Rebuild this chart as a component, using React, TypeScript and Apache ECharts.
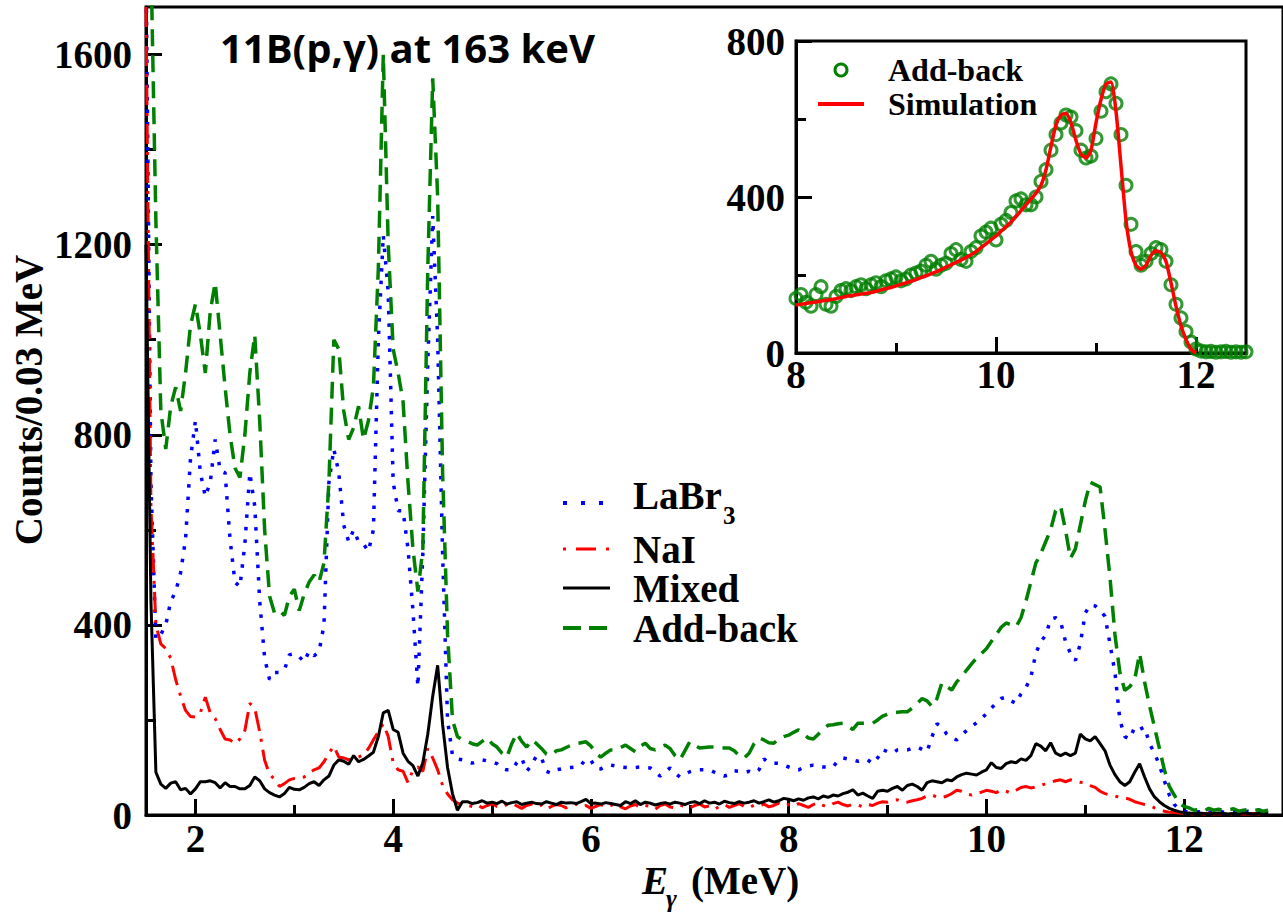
import React, { useEffect, useRef } from "react";
import * as echarts from "echarts";

// Main spectrum: bins from 1.50 MeV, step 0.05 MeV
const E_START = 1.5;
const E_STEP = 0.05;

const laBr3 = [
  1800, 700, 370, 380, 400, 450, 470, 510, 580, 750,
  830, 720, 670, 700, 790, 725, 720, 580, 490, 480,
  570, 720, 650, 450, 330, 285, 300, 300, 305, 337,
  340, 333, 322, 345, 335, 343, 400, 700, 770, 720,
  610, 575, 600, 575, 570, 555, 600, 1000, 1220, 1100,
  700, 640, 640, 560, 430, 270, 550, 950, 1260, 1000,
  550, 200, 125, 118, 116, 112, 109, 112, 116, 114,
  112, 108, 98, 95, 95, 110, 120, 92, 105, 125,
  120, 92, 88, 95, 97, 99, 100, 101, 105, 118,
  115, 98, 97, 103, 105, 103, 101, 100, 99, 100,
  101, 100, 99, 90, 82, 90, 99, 88, 80, 86,
  91, 94, 95, 95, 95, 90, 85, 82, 85, 93,
  92, 89, 92, 88, 95, 118, 110, 109, 109, 105,
  101, 97, 95, 100, 103, 105, 103, 101, 101, 101,
  115, 120, 118, 116, 113, 116, 116, 108, 120, 138,
  133, 130, 137, 138, 137, 140, 143, 138, 133, 165,
  192, 185, 170, 162, 158, 168, 178, 186, 194, 203,
  213, 225, 235, 245, 248, 240, 235, 255, 268, 290,
  340, 365, 378, 412, 415, 408, 365, 340, 325, 360,
  425, 442, 440, 430, 418, 360, 300, 200, 165, 160,
  185, 180, 185, 150, 130, 105, 72, 42, 22, 12,
  8, 6, 5, 7, 4, 6, 5, 8, 6, 5,
  7, 9, 6, 8, 7, 10, 9, 12,
];

const naI = [
  1700, 650, 400, 360, 350, 330, 285, 250, 220, 207,
  206, 215, 248, 215, 203, 180, 160, 158, 150, 160,
  178, 235, 225, 175, 115, 86, 75, 60, 66, 74,
  77, 78, 80, 88, 95, 99, 112, 130, 145, 122,
  120, 116, 120, 122, 126, 140, 158, 175, 192, 165,
  110, 95, 92, 68, 95, 101, 92, 140, 120, 95,
  62, 44, 32, 25, 22, 20, 18, 22, 15, 20,
  24, 18, 16, 22, 25, 19, 14, 20, 23, 17,
  21, 12, 18, 22, 20, 15, 19, 23, 17, 20,
  14, 18, 22, 16, 20, 24, 17, 13, 19, 22,
  16, 20, 18, 12, 20, 23, 17, 15, 21, 18,
  14, 20, 23, 17, 19, 12, 18, 22, 16, 20,
  24, 18, 15, 21, 19, 23, 17, 20, 25, 19,
  22, 18, 24, 20, 16, 22, 26, 20, 18, 24,
  27, 22, 19, 23, 21, 17, 22, 20, 25, 28,
  27, 30, 32, 28, 27, 30, 32, 35, 40, 42,
  38, 36, 40, 45, 52, 50, 44, 42, 46, 48,
  52, 50, 47, 53, 50, 46, 52, 58, 60, 57,
  59, 62, 66, 69, 72, 74, 70, 74, 72, 69,
  68, 62, 58, 50, 45, 42, 40, 37, 36, 33,
  28, 25, 22, 20, 15, 11, 8, 6, 5, 4,
  3, 3, 2, 3, 2, 4, 2, 3, 2, 3,
  2, 3, 2, 2, 3, 2, 3, 2,
];

const mixed = [
  1200, 450, 90, 65, 56, 67, 70, 53, 56, 44,
  55, 70, 70, 72, 68, 57, 68, 60, 60, 55,
  55, 62, 80, 72, 55, 47, 42, 38, 45, 58,
  54, 53, 58, 66, 70, 62, 74, 82, 105, 116,
  113, 107, 125, 112, 117, 124, 132, 165, 215, 220,
  180, 174, 130, 113, 104, 82, 110, 170, 250, 315,
  190, 100, 45, 10, 28, 28, 24, 26, 30, 25,
  27, 24, 29, 23, 26, 28, 22, 25, 27, 24,
  23, 28, 25, 22, 27, 25, 26, 24, 28, 33,
  24, 25, 23, 26, 24, 22, 20, 28, 24, 30,
  22, 27, 25, 21, 24, 26, 23, 27, 25, 22,
  26, 28, 24, 30, 25, 27, 23, 29, 26, 24,
  28, 25, 27, 30, 25, 28, 32, 27, 30, 35,
  33, 30, 34, 31, 36, 38, 34, 40, 37, 42,
  40, 45, 48, 53, 42, 46, 40, 35, 50, 52,
  50, 56, 60, 52, 62, 65, 60, 52, 68, 72,
  70, 68, 74, 72, 80, 85, 88, 86, 84, 90,
  95, 110, 100, 98, 108, 112, 110, 118, 115, 125,
  150, 145, 135, 152, 130, 125, 130, 125, 130, 170,
  160, 156, 165, 150, 135, 105, 85, 70, 62, 70,
  90, 108, 80, 55, 38, 28, 20, 14, 10, 7,
  5, 4, 3, 4, 3, 2, 3, 4, 3, 2,
  3, 3, 4, 3, 2, 3, 4, 3,
];

const addBack = [
  2200, 1800, 1250, 850, 770, 860, 900, 850, 930, 1030,
  1075, 1010, 930, 1060, 1120, 1010, 900, 800, 730, 710,
  800, 930, 1010, 830, 600, 460, 425, 430, 420, 460,
  475, 430, 465, 490, 505, 490, 530, 700, 1000, 980,
  850, 790, 815, 860, 790, 830, 900, 1150, 1600, 1200,
  980, 930, 870, 700, 560, 470, 560, 1150, 1550, 1300,
  720, 380, 200, 165, 158, 155, 150, 147, 155, 162,
  150, 143, 130, 122, 150, 172, 155, 143, 158, 150,
  140, 128, 126, 135, 137, 142, 147, 150, 152, 154,
  145, 130, 122, 130, 137, 137, 142, 147, 140, 133,
  145, 151, 140, 137, 142, 147, 140, 125, 116, 135,
  154, 147, 141, 142, 143, 143, 142, 141, 141, 135,
  125, 120, 130, 150, 162, 158, 152, 151, 160, 165,
  168, 174, 179, 170, 162, 160, 170, 180, 189, 190,
  192, 193, 187, 180, 193, 193, 193, 193, 200, 208,
  212, 215, 216, 217, 217, 225, 235, 245, 240, 228,
  245, 278, 270, 263, 280, 291, 305, 318, 330, 340,
  350, 365, 380, 395, 404, 400, 396, 415, 450, 490,
  530, 550, 575, 600, 640, 650, 600, 540, 560, 610,
  660, 700, 695, 690, 600, 500, 380, 300, 262, 270,
  285, 340, 280, 230, 185, 140, 95, 60, 42, 25,
  18, 15, 10, 12, 8, 14, 10, 12, 9, 11,
  13, 8, 10, 12, 9, 11, 8, 10,
];

// Inset: bins from 8.00 MeV, step 0.05 MeV
const INSET_START = 8.0;
const insetAddBack = [
  140, 150, 130, 120, 150, 170, 125, 120, 145, 160,
  165, 160, 170, 175, 165, 175, 180, 170, 185, 190,
  195, 185, 190, 200, 205, 210, 225, 235, 215, 225,
  230, 255, 265, 240, 235, 260, 270, 300, 310, 320,
  290, 330, 340, 360, 390, 395, 380, 380, 400, 440,
  470, 520, 560, 590, 610, 605, 570, 520, 500, 505,
  550, 620, 670, 690, 640, 560, 430, 330, 260, 225,
  235, 255, 270, 265, 235, 175, 125, 90, 55, 28,
  10, 5, 3, 4, 2, 3, 4, 2, 3, 2,
  3,
];
const insetSimulation = [
  123, 125, 127, 129, 131, 133, 135, 137, 139, 142,
  145, 147, 149, 151, 153, 155, 158, 162, 165, 168,
  172, 176, 180, 184, 188, 193, 198, 203, 208, 214,
  220, 226, 232, 238, 245, 252, 260, 270, 280, 290,
  300, 312, 324, 336, 350, 365, 380, 395, 410, 430,
  470, 530, 585, 610, 615, 590, 545, 510, 500, 520,
  590, 650, 690, 695, 620, 480, 340, 260, 225, 215,
  225, 250, 262, 258, 235, 180, 120, 70, 35, 10,
  0,
];

const mainXLabels = [2, 4, 6, 8, 10, 12];
const mainXMinor = [3, 5, 7, 9, 11];
const mainYLabels = [0, 400, 800, 1200, 1600];
const mainYMinor = [200, 600, 1000, 1400];
const insetXLabels = [8, 10, 12];
const insetXMinor = [9, 11];
const insetYLabels = [0, 400, 800];
const insetYMinor = [200, 600];

const SERIF = '"Liberation Serif", "Times New Roman", serif';

const toPairs = (arr: number[], start: number) =>
  arr.map((v, i) => [Number((start + i * E_STEP).toFixed(2)), v]);

function majorAxis(gridIndex: number, min: number, max: number, values: number[], isX: boolean, margin: number) {
  return {
    type: "value",
    gridIndex,
    min,
    max,
    position: isX ? "bottom" : "left",
    axisLine: { show: true, onZero: false, lineStyle: { color: "#000", width: 3 } },
    axisTick: { show: true, inside: true, length: 16, customValues: values, lineStyle: { color: "#000", width: 3 } },
    axisLabel: {
      show: true,
      customValues: values,
      formatter: (v: number) => String(v),
      margin,
      color: "#000",
      fontFamily: SERIF,
      fontWeight: "bold",
      fontSize: 39,
    },
    splitLine: { show: false },
  };
}

function minorAxis(gridIndex: number, min: number, max: number, values: number[], isX: boolean) {
  return {
    type: "value",
    gridIndex,
    min,
    max,
    position: isX ? "bottom" : "left",
    axisLine: { show: false, onZero: false },
    axisTick: { show: true, inside: true, length: 10, customValues: values, lineStyle: { color: "#000", width: 3 } },
    axisLabel: { show: false },
    splitLine: { show: false },
  };
}

function txt(text: string, x: number, y: number, size: number, opts: any = {}) {
  return {
    type: "text",
    x,
    y,
    rotation: opts.rotation || 0,
    z: 100,
    style: {
      text,
      fill: "#000",
      font: `${opts.italic ? "italic " : ""}bold ${size}px ${opts.family || SERIF}`,
      align: opts.align || "left",
      textAlign: opts.align || "left",
      verticalAlign: "middle",
      textVerticalAlign: "middle",
    },
  };
}

function legLine(x1: number, x2: number, y: number, color: string, width: number, dash: number[] | null) {
  return {
    type: "line",
    z: 100,
    shape: { x1, y1: y, x2, y2: y },
    style: { stroke: color, lineWidth: width, lineDash: dash || null, lineCap: "butt" },
  };
}

export default function App() {
  const ref = useRef<HTMLDivElement>(null);
  useEffect(() => {
    if (!ref.current) return;
    const chart = echarts.init(ref.current, null, { renderer: "svg" });
    const option: any = {
      animation: false,
      backgroundColor: "#fff",
      grid: [
        { left: 146, top: 7, width: 1150, height: 808, show: true, borderColor: "#000", borderWidth: 3, backgroundColor: "transparent" },
        { left: 796, top: 41, width: 450, height: 312, show: true, borderColor: "#000", borderWidth: 3, backgroundColor: "#fff" },
      ],
      xAxis: [
        majorAxis(0, 1.5, 13, mainXLabels, true, 4),
        minorAxis(0, 1.5, 13, mainXMinor, true),
        majorAxis(1, 8, 12.5, insetXLabels, true, 2),
        minorAxis(1, 8, 12.5, insetXMinor, true),
      ],
      yAxis: [
        majorAxis(0, 0, 1700, mainYLabels, false, 14),
        minorAxis(0, 0, 1700, mainYMinor, false),
        majorAxis(1, 0, 800, insetYLabels, false, 11),
        minorAxis(1, 0, 800, insetYMinor, false),
      ],
      series: [
        {
          name: "LaBr3", type: "line", xAxisIndex: 0, yAxisIndex: 0, data: toPairs(laBr3, E_START),
          symbol: "none", clip: true, z: 2,
          lineStyle: { color: "#0000ff", width: 3.5, type: [3.5, 9], cap: "butt" },
        },
        {
          name: "NaI", type: "line", xAxisIndex: 0, yAxisIndex: 0, data: toPairs(naI, E_START),
          symbol: "none", clip: true, z: 3,
          lineStyle: { color: "#ff0000", width: 3, type: [20, 8, 3, 8], cap: "butt" },
        },
        {
          name: "Mixed", type: "line", xAxisIndex: 0, yAxisIndex: 0, data: toPairs(mixed, E_START),
          symbol: "none", clip: true, z: 4,
          lineStyle: { color: "#000000", width: 3 },
        },
        {
          name: "Add-back", type: "line", xAxisIndex: 0, yAxisIndex: 0, data: toPairs(addBack, E_START),
          symbol: "none", clip: true, z: 5,
          lineStyle: { color: "#008000", width: 3.5, type: [17, 9], cap: "butt" },
        },
        {
          name: "Inset Add-back", type: "scatter", xAxisIndex: 2, yAxisIndex: 2, data: toPairs(insetAddBack, INSET_START),
          symbol: "circle", symbolSize: 12, z: 6,
          itemStyle: { color: "rgba(0,0,0,0)", borderColor: "#008000", borderWidth: 3 },
        },
        {
          name: "Simulation", type: "line", xAxisIndex: 2, yAxisIndex: 2, data: toPairs(insetSimulation, INSET_START),
          symbol: "none", z: 7, smooth: 0.2,
          lineStyle: { color: "#ff0000", width: 3.5 },
        },
      ],
      graphic: [
        txt("11B(p,\u03b3) at 163 keV", 220, 47, 40, { family: '"Open Sans", sans-serif' }),
        txt("Counts/0.03 MeV", 28, 400, 39, { align: "center", rotation: Math.PI / 2 }),
        txt("E", 642, 880, 39, { italic: true }),
        txt("\u03b3", 666, 898, 26, { italic: true }),
        txt("(MeV)", 691, 880, 39),
        legLine(563, 610, 503, "#0000ff", 4, [4, 14]),
        txt("LaBr", 633, 495, 39),
        txt("3", 723, 515, 25),
        legLine(563, 610, 549, "#ff0000", 3, [3, 10, 20, 10]),
        txt("NaI", 633, 549, 39),
        legLine(563, 610, 588, "#000000", 3, null),
        txt("Mixed", 633, 588, 39),
        legLine(563, 610, 628, "#008000", 4, [18, 8]),
        txt("Add-back", 633, 628, 39),
        { type: "circle", z: 100, shape: { cx: 841, cy: 70, r: 6 }, style: { fill: "none", stroke: "#008000", lineWidth: 3 } },
        txt("Add-back", 888, 70, 32),
        legLine(818, 864, 104, "#ff0000", 4, null),
        txt("Simulation", 888, 104, 32),
      ],
    };
    chart.setOption(option);
    return () => chart.dispose();
  }, []);
  return (
    <div
      ref={ref}
      style={{ position: "fixed", left: 0, top: 0, width: 1283, height: 913, background: "#fff" }}
    />
  );
}
